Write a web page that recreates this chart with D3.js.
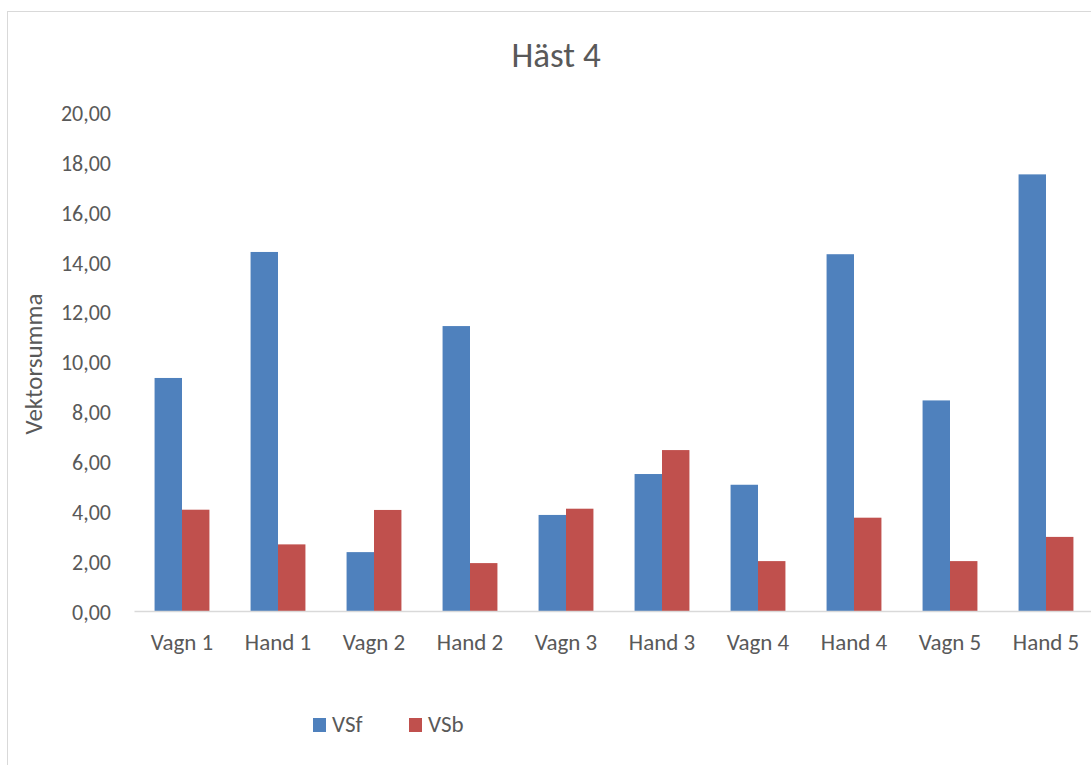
<!DOCTYPE html>
<html>
<head>
<meta charset="utf-8">
<script src="https://cdn.jsdelivr.net/npm/d3@7"></script>
<style>
  body { margin: 0; background: #fff; }
  text { font-family: Carlito, Calibri, Lato, sans-serif; fill: #595959; }
</style>
</head>
<body>
<div id="chart"></div>
<script>
// data
let categories = ["Vagn 1","Hand 1","Vagn 2","Hand 2","Vagn 3","Hand 3","Vagn 4","Hand 4","Vagn 5","Hand 5"]
let vsf = [9.34, 14.39, 2.36, 11.42, 3.85, 5.49, 5.06, 14.30, 8.44, 17.50]
let vsb = [4.06, 2.67, 4.05, 1.92, 4.10, 6.45, 2.00, 3.74, 2.00, 2.97]
let seriesNames = ["VSf","VSb"]
let yTicks = [0,2,4,6,8,10,12,14,16,18,20]

let colors = ["#4F81BD","#C0504D"]

let width = 1091
let height = 765
let margin = {top: 112, right: -3, bottom: 154, left: 134}

let svg = d3.select("#chart").append("svg")
            .attr("width", width)
            .attr("height", height)

// chart border
svg.append("rect")
   .attr("x", 7.5).attr("y", 11.5)
   .attr("width", width + 20).attr("height", height + 20)
   .attr("fill", "none")
   .attr("stroke", "#d9d9d9")

let x = d3.scaleBand()
          .domain(categories)
          .range([margin.left, width - margin.right])
          .paddingInner(1.5/3.5)
          .paddingOuter(0.75/3.5)

let x1 = d3.scaleBand()
           .domain(seriesNames)
           .range([0, x.bandwidth()])

let y = d3.scaleLinear()
          .domain([0,20])
          .range([height - margin.bottom, margin.top])

// title
svg.append("text")
   .attr("x", 556).attr("y", 67)
   .attr("text-anchor","middle")
   .style("font-size","35px")
   .text("Häst 4")

// y axis labels (no gridlines)
let yAxis = svg.append("g")
               .attr("transform", `translate(${margin.left},0)`)
               .call(d3.axisLeft(y).tickValues(yTicks).tickSize(0).tickPadding(23)
                       .tickFormat(d => d3.format(".2f")(d).replace(".", ",")))
yAxis.select(".domain").remove()
yAxis.selectAll("text").style("font-size","22px").attr("fill","#595959").attr("dy","0.38em")

// bars
let groups = svg.append("g").selectAll("g")
                .data(categories)
                .join("g")
                .attr("transform", d => `translate(${x(d)},0)`)

groups.selectAll("rect")
      .data((d,i) => [{k:"VSf", v:vsf[i]}, {k:"VSb", v:vsb[i]}])
      .join("rect")
      .attr("x", d => x1(d.k))
      .attr("y", d => y(d.v))
      .attr("width", x1.bandwidth())
      .attr("height", d => y(0) - y(d.v))
      .attr("fill", (d,i) => colors[i])

// baseline + x labels
let xAxis = svg.append("g")
               .attr("transform", `translate(0,${y(0)})`)
               .call(d3.axisBottom(x).tickSize(0).tickPadding(23))
xAxis.select(".domain").attr("stroke","#d9d9d9").attr("stroke-width",1.5)
xAxis.selectAll("text").style("font-size","23px").attr("fill","#595959")

// y axis title
svg.append("text")
   .attr("transform", "translate(42,364) rotate(-90)")
   .attr("text-anchor","middle")
   .style("font-size","25px")
   .text("Vektorsumma")

// legend
let legend = svg.append("g")
let legendX = [313, 409]
seriesNames.forEach(function(s, i) {
  legend.append("rect")
        .attr("x", legendX[i]).attr("y", 718)
        .attr("width", 13).attr("height", 14)
        .attr("fill", colors[i])
  legend.append("text")
        .attr("x", legendX[i] + 19).attr("y", 732)
        .style("font-size","23px")
        .text(s)
})
</script>
</body>
</html>
